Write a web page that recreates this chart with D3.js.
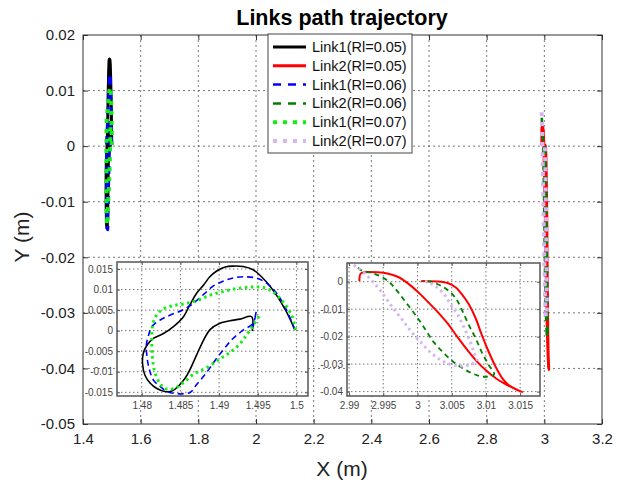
<!DOCTYPE html>
<html>
<head>
<meta charset="utf-8">
<script src="https://cdn.jsdelivr.net/npm/d3@7"></script>
<style>
  body { margin: 0; background: #fff; }
  text { font-family: "Liberation Sans", Arial, sans-serif; }
</style>
</head>
<body>
<svg id="chart" width="621" height="482"></svg>
<script>
// ---- data ----
var link1_005_x = [1.4998, 1.4987, 1.4974, 1.4961, 1.4944, 1.4931, 1.4918, 1.4908, 1.4897, 1.4888, 1.4880, 1.4871, 1.4862, 1.4854, 1.4841, 1.4828, 1.4815, 1.4807, 1.4802, 1.4801, 1.4804, 1.4811, 1.4819, 1.4830, 1.4839, 1.4847, 1.4856, 1.4862, 1.4871, 1.4880, 1.4888, 1.4901, 1.4914, 1.4927, 1.4942, 1.4943];
var link1_005_y = [0.0002, 0.0046, 0.0087, 0.0119, 0.0148, 0.0156, 0.0157, 0.0155, 0.0145, 0.0131, 0.0111, 0.0091, 0.0062, 0.0034, 0.0010, -0.0007, -0.0019, -0.0035, -0.0055, -0.0080, -0.0108, -0.0128, -0.0140, -0.0148, -0.0147, -0.0136, -0.0116, -0.0096, -0.0059, -0.0023, 0.0002, 0.0018, 0.0024, 0.0028, 0.0034, -0.0001];

var link1_006_x = [1.4998, 1.4987, 1.4974, 1.4961, 1.4948, 1.4931, 1.4918, 1.4905, 1.4892, 1.4880, 1.4867, 1.4854, 1.4837, 1.4824, 1.4813, 1.4809, 1.4806, 1.4807, 1.4810, 1.4815, 1.4824, 1.4834, 1.4862, 1.4871, 1.4880, 1.4888, 1.4897, 1.4907, 1.4918, 1.4931, 1.4944, 1.4948, 1.4943];
var link1_006_y = [0.0002, 0.0051, 0.0092, 0.0116, 0.0128, 0.0131, 0.0128, 0.0120, 0.0108, 0.0088, 0.0067, 0.0051, 0.0038, 0.0026, 0.0010, -0.0010, -0.0034, -0.0067, -0.0095, -0.0120, -0.0136, -0.0149, -0.0151, -0.0131, -0.0111, -0.0091, -0.0067, -0.0043, -0.0019, 0.0001, 0.0018, 0.0047, 0.0000];

var link1_007_x = [1.4999, 1.4994, 1.4983, 1.4970, 1.4957, 1.4940, 1.4922, 1.4905, 1.4888, 1.4871, 1.4854, 1.4841, 1.4828, 1.4819, 1.4814, 1.4813, 1.4814, 1.4817, 1.4824, 1.4832, 1.4843, 1.4854, 1.4867, 1.4884, 1.4901, 1.4914, 1.4927, 1.4935, 1.4944, 1.4951, 1.4952];
var link1_007_y = [0.0002, 0.0037, 0.0069, 0.0094, 0.0105, 0.0106, 0.0102, 0.0095, 0.0086, 0.0073, 0.0065, 0.0061, 0.0053, 0.0037, 0.0013, -0.0028, -0.0069, -0.0101, -0.0130, -0.0142, -0.0140, -0.0126, -0.0106, -0.0090, -0.0069, -0.0053, -0.0032, -0.0012, 0.0012, 0.0033, 0.0036];

var link2_005_x = [2.9915, 2.9917, 2.9923, 2.9942, 2.9956, 2.9971, 2.9986, 3.0000, 3.0015, 3.0029, 3.0044, 3.0058, 3.0073, 3.0087, 3.0102, 3.0116, 3.0131, 3.0153, 3.0133, 3.0124, 3.0114, 3.0104, 3.0094, 3.0085, 3.0075, 3.0065, 3.0056, 3.0044, 3.0029, 3.0015, 3.0005];
var link2_005_y = [0.0002, 0.0029, 0.0034, 0.0034, 0.0030, 0.0018, -0.0006, -0.0036, -0.0073, -0.0109, -0.0152, -0.0200, -0.0249, -0.0291, -0.0327, -0.0354, -0.0376, -0.0402, -0.0376, -0.0352, -0.0309, -0.0255, -0.0194, -0.0133, -0.0082, -0.0046, -0.0021, -0.0005, 0.0001, 0.0002, 0.0002];

var link2_006_x = [2.9913, 2.9918, 2.9930, 2.9944, 2.9959, 2.9971, 2.9986, 3.0000, 3.0012, 3.0024, 3.0039, 3.0053, 3.0068, 3.0082, 3.0097, 3.0112, 3.0104, 3.0094, 3.0085, 3.0075, 3.0065, 3.0056, 3.0044, 3.0032, 3.0019, 3.0007];
var link2_006_y = [0.0051, 0.0041, 0.0034, 0.0022, -0.0002, -0.0036, -0.0085, -0.0131, -0.0176, -0.0221, -0.0261, -0.0293, -0.0318, -0.0336, -0.0346, -0.0337, -0.0303, -0.0257, -0.0206, -0.0158, -0.0103, -0.0061, -0.0030, -0.0012, 0.0000, 0.0002];

var link2_007_x = [2.9907, 2.9913, 2.9923, 2.9935, 2.9947, 2.9961, 2.9976, 2.9990, 3.0005, 3.0019, 3.0034, 3.0048, 3.0063, 3.0078, 3.0087, 3.0083, 3.0077, 3.0069, 3.0059, 3.0049, 3.0039, 3.0027, 3.0015, 3.0005];
var link2_007_y = [0.0061, 0.0049, 0.0029, 0.0000, -0.0036, -0.0085, -0.0133, -0.0179, -0.0221, -0.0257, -0.0285, -0.0301, -0.0307, -0.0301, -0.0289, -0.0261, -0.0218, -0.0172, -0.0121, -0.0085, -0.0046, -0.0018, -0.0002, 0.0002];

var seriesNames = ["Link1(Rl=0.05)", "Link2(Rl=0.05)", "Link1(Rl=0.06)", "Link2(Rl=0.06)", "Link1(Rl=0.07)", "Link2(Rl=0.07)"];

var mainXTicks = [1.4, 1.6, 1.8, 2, 2.2, 2.4, 2.6, 2.8, 3, 3.2];
var mainYTicks = [0.02, 0.01, 0, -0.01, -0.02, -0.03, -0.04, -0.05];
var inset1XTicks = [1.48, 1.485, 1.49, 1.495, 1.5];
var inset1YTicks = [0.015, 0.01, 0.005, 0, -0.005, -0.01, -0.015];
var inset2XTicks = [2.99, 2.995, 3, 3.005, 3.01, 3.015];
var inset2YTicks = [0, -0.01, -0.02, -0.03, -0.04];

// ---- styles ----
var styles = [
  { color: "#000000", w: 3, dash: null, wi: 1.6, dashi: null },
  { color: "#ff0000", w: 3, dash: null, wi: 2, dashi: null },
  { color: "#0000ff", w: 2.5, dash: "8,7", wi: 1.6, dashi: "6,4" },
  { color: "#007f00", w: 2.5, dash: "8,7", wi: 1.8, dashi: "5,4" },
  { color: "#11ee11", w: 4, dash: "4,6", wi: 3, dashi: "2.5,3.5" },
  { color: "#d6b6f2", w: 4, dash: "4,6", wi: 3, dashi: "2.5,3.5" }
];

var data = [
  [link1_005_x, link1_005_y], [link2_005_x, link2_005_y],
  [link1_006_x, link1_006_y], [link2_006_x, link2_006_y],
  [link1_007_x, link1_007_y], [link2_007_x, link2_007_y]
].map(function (s, i) {
  return { name: seriesNames[i], style: styles[i], pts: s[0].map(function (x, j) { return [x, s[1][j]]; }) };
});

var svg = d3.select("#chart");

function drawAxes(id, box, xDom, yDom, xTicks, yTicks, opt) {
  var w = box.right - box.left, h = box.bottom - box.top;
  var x = d3.scaleLinear().domain(xDom).range([0, w]);
  var y = d3.scaleLinear().domain(yDom).range([h, 0]);
  var g = svg.append("g").attr("transform", "translate(" + box.left + "," + box.top + ")");

  g.append("rect").attr("width", w).attr("height", h).attr("fill", "#fff");

  g.append("clipPath").attr("id", id).append("rect").attr("width", w).attr("height", h);

  // grid
  var grid = g.append("g").attr("stroke", opt.gridColor).attr("stroke-width", 0.8)
    .attr("stroke-dasharray", opt.gridDash);
  grid.selectAll(".gx").data(xTicks.filter(function (t) { return x(t) > 1 && x(t) < w - 1; }))
    .enter().append("line")
    .attr("x1", function (d) { return x(d); }).attr("x2", function (d) { return x(d); })
    .attr("y1", 0).attr("y2", h);
  grid.selectAll(".gy").data(yTicks.filter(function (t) { return y(t) > 1 && y(t) < h - 1; }))
    .enter().append("line")
    .attr("y1", function (d) { return y(d); }).attr("y2", function (d) { return y(d); })
    .attr("x1", 0).attr("x2", w);

  // lines
  var line = d3.line().x(function (d) { return x(d[0]); }).y(function (d) { return y(d[1]); })
    .curve(d3.curveCatmullRom.alpha(0.5));
  var lg = g.append("g").attr("clip-path", "url(#" + id + ")");
  data.forEach(function (s) {
    lg.append("path").datum(s.pts)
      .attr("d", line)
      .attr("fill", "none")
      .attr("stroke", s.style.color)
      .attr("stroke-width", opt.inset ? s.style.wi : s.style.w)
      .attr("stroke-dasharray", opt.inset ? s.style.dashi : s.style.dash)
      .attr("stroke-linejoin", "round");
  });

  // axes with inward ticks
  var fmt = function (d) { return String(+d.toFixed(4)); };
  var ax = g.append("g").attr("transform", "translate(0," + h + ")")
    .call(d3.axisBottom(x).tickValues(xTicks).tickSizeInner(-opt.tick).tickSizeOuter(0)
      .tickPadding(opt.padX).tickFormat(fmt));
  var ay = g.append("g")
    .call(d3.axisLeft(y).tickValues(yTicks).tickSizeInner(-opt.tick).tickSizeOuter(0)
      .tickPadding(opt.padY).tickFormat(fmt));
  var at = g.append("g")
    .call(d3.axisTop(x).tickValues(xTicks).tickSizeInner(-opt.tick).tickSizeOuter(0).tickFormat(""));
  var ar = g.append("g").attr("transform", "translate(" + w + ",0)")
    .call(d3.axisRight(y).tickValues(yTicks).tickSizeInner(-opt.tick).tickSizeOuter(0).tickFormat(""));
  [ax, ay, at, ar].forEach(function (a) {
    a.select(".domain").remove();
    a.selectAll("line").attr("stroke", opt.axisColor);
    a.selectAll("text").attr("font-size", opt.fontSize).attr("fill", opt.textColor)
      .style("font-family", "'Liberation Sans', Arial, sans-serif");
  });

  g.append("rect").attr("width", w).attr("height", h)
    .attr("fill", "none").attr("stroke", opt.axisColor).attr("stroke-width", opt.boxWidth);
  return g;
}

// main axes
drawAxes("clipMain", { left: 83, top: 35, right: 602, bottom: 424 },
  [1.4, 3.2], [-0.05, 0.02], mainXTicks, mainYTicks,
  { inset: false, tick: 5, padX: 9, padY: 8, fontSize: 15, textColor: "#222",
    axisColor: "#333", gridColor: "#555", gridDash: "2,3", boxWidth: 1 });

// inset 1 (Link1 zoom)
drawAxes("clipIn1", { left: 117, top: 262, right: 308, bottom: 396 },
  [1.4768, 1.5015], [-0.0159, 0.0167], inset1XTicks, inset1YTicks,
  { inset: true, tick: 3, padX: 6, padY: 4, fontSize: 10, textColor: "#444",
    axisColor: "#555", gridColor: "#555", gridDash: "1.5,2.5", boxWidth: 1.5 });

// inset 2 (Link2 zoom)
drawAxes("clipIn2", { left: 347, top: 263, right: 540, bottom: 396 },
  [2.9897, 3.0179], [-0.0416, 0.0068], inset2XTicks, inset2YTicks,
  { inset: true, tick: 3, padX: 6, padY: 4, fontSize: 10, textColor: "#444",
    axisColor: "#555", gridColor: "#555", gridDash: "1.5,2.5", boxWidth: 1.5 });

// title and axis labels
svg.append("text").attr("x", 342).attr("y", 25).attr("text-anchor", "middle")
  .attr("font-size", 21.5).attr("font-weight", "bold").text("Links path trajectory");
svg.append("text").attr("x", 342).attr("y", 476).attr("text-anchor", "middle")
  .attr("font-size", 21).attr("fill", "#222").text("X (m)");
svg.append("text").attr("transform", "translate(29,237) rotate(-90)").attr("text-anchor", "middle")
  .attr("font-size", 21).attr("fill", "#222").text("Y (m)");

// legend
var leg = svg.append("g").attr("transform", "translate(268,34)");
leg.append("rect").attr("width", 144).attr("height", 119)
  .attr("fill", "#fff").attr("stroke", "#444").attr("stroke-width", 1);
data.forEach(function (s, i) {
  var yy = 13 + i * 18.8;
  leg.append("line").attr("x1", 5).attr("x2", 38).attr("y1", yy).attr("y2", yy)
    .attr("stroke", s.style.color).attr("stroke-width", s.style.w)
    .attr("stroke-dasharray", s.style.dash);
  leg.append("text").attr("x", 44).attr("y", yy + 5).attr("font-size", 14.5)
    .attr("fill", "#111").text(s.name);
});
</script>
</body>
</html>
